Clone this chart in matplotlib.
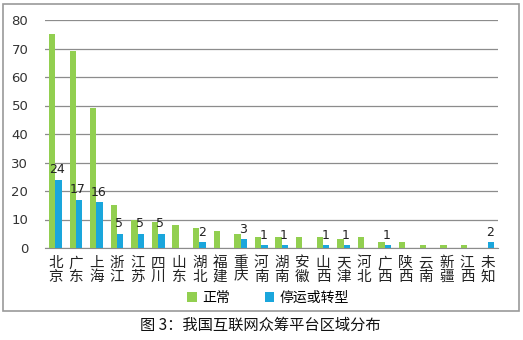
import numpy as np
import matplotlib.pyplot as plt
from matplotlib.patches import Rectangle

plt.rcParams['font.family'] = ['Noto Sans CJK SC', 'DejaVu Sans']

# 各地区众筹平台数量
regions = ['北京', '广东', '上海', '浙江', '江苏', '四川', '山东', '湖北', '福建', '重庆', '河南',
           '湖南', '安徽', '山西', '天津', '河北', '广西', '陕西', '云南', '新疆', '江西', '未知']
normal = [75, 69, 49, 15, 10, 9, 8, 7, 6, 5, 4, 4, 4, 4, 3, 4, 2, 2, 1, 1, 1, 0]
stopped = [24, 17, 16, 5, 5, 5, 0, 2, 0, 3, 1, 1, 0, 1, 1, 0, 1, 0, 0, 0, 0, 2]

W, H = 523, 340
fig = plt.figure(figsize=(W / 100, H / 100), dpi=100)
ax = fig.add_axes([45 / W, 1 - 248 / H, (498 - 45) / W, (248 - 20) / H])

x = np.arange(len(regions))
bw = 0.31
green = '#92cf50'
blue = '#1aa6dc'
ax.bar(x - bw / 2, normal, bw, color=green, label='正常', zorder=3)
ax.bar(x + bw / 2, stopped, bw, color=blue, label='停运或转型', zorder=3)

# 停运数值标注
for xi, v in zip(x, stopped):
    if v > 0:
        ax.text(xi + bw / 2 - 0.05, v + 1.2, str(v), ha='center', va='bottom', fontsize=9,
                family='DejaVu Sans', color='#222222', zorder=4)

ax.set_xlim(-0.5, len(regions) - 0.5)
ax.set_ylim(0, 80)
ax.set_yticks(range(0, 81, 10))
ax.yaxis.grid(True, color='#8c8c8c', linewidth=0.9, zorder=0)
ax.tick_params(axis='y', length=0, labelsize=9.5, pad=12, colors='#333333')
for lab in ax.get_yticklabels():
    lab.set_family('DejaVu Sans')
ax.set_xticks(x)
ax.set_xticklabels(['\n'.join(r) for r in regions], fontsize=10.5, linespacing=0.95)
ax.tick_params(axis='x', length=0, pad=6, colors='#222222')
for s in ['top', 'right', 'left']:
    ax.spines[s].set_visible(False)
ax.spines['bottom'].set_color('#8c8c8c')

leg = fig.legend(loc='center', bbox_to_anchor=(268 / W, 1 - 298 / H), ncol=2, frameon=False,
                 fontsize=10, handlelength=0.7, handleheight=0.7, columnspacing=2.5,
                 handletextpad=0.4)

# 外框和图题
fig.patches.append(Rectangle((3 / W, 1 - 311 / H), 516 / W, 307 / H, transform=fig.transFigure,
                             fill=False, edgecolor='#9a9a9a', linewidth=1.2))
fig.text(260 / W, 1 - 325 / H, '图 3：我国互联网众筹平台区域分布', ha='center', va='center',
         fontsize=11, color='#111111')

fig.savefig('out.png', dpi=100)
